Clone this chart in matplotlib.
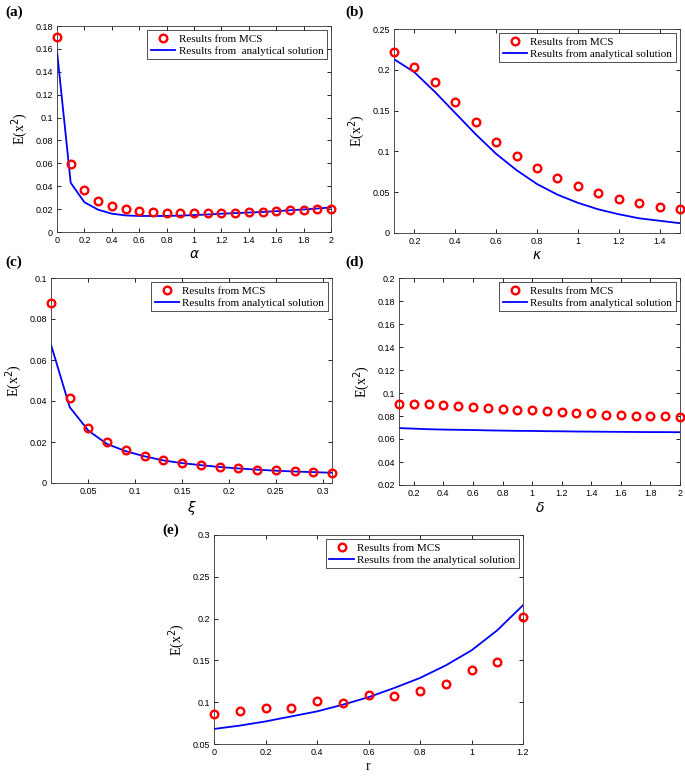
import numpy as np
import matplotlib
matplotlib.use("Agg")
import matplotlib.pyplot as plt

# panel (a): alpha
alpha = np.round(np.arange(0, 2.01, 0.1), 2)
mcs_a = [0.17, 0.0595, 0.0365, 0.027, 0.0225, 0.02, 0.018, 0.0175, 0.017, 0.0165, 0.0165,
         0.0165, 0.017, 0.017, 0.0175, 0.0175, 0.018, 0.019, 0.0195, 0.02, 0.02]
ana_a = [0.158, 0.043, 0.026, 0.0195, 0.016, 0.0145, 0.014, 0.014, 0.014, 0.0143, 0.0148,
         0.0153, 0.016, 0.0165, 0.017, 0.0175, 0.0182, 0.019, 0.0197, 0.0205, 0.0215]

# panel (b): kappa
kappa = np.round(np.arange(0.1, 1.51, 0.1), 2)
mcs_b = [0.222, 0.204, 0.185, 0.161, 0.136, 0.112, 0.094, 0.080, 0.068, 0.058,
         0.049, 0.042, 0.037, 0.032, 0.029]
ana_b = [0.213, 0.197, 0.173, 0.147, 0.121, 0.097, 0.077, 0.060, 0.047, 0.037,
         0.029, 0.023, 0.018, 0.015, 0.012]

# panel (c): xi
xi = np.round(np.arange(0.01, 0.311, 0.02), 2)
mcs_c = [0.088, 0.0415, 0.027, 0.020, 0.016, 0.013, 0.011, 0.010, 0.009, 0.0078,
         0.0073, 0.0065, 0.0062, 0.0058, 0.0055, 0.005]
ana_c = [0.0675, 0.037, 0.0255, 0.019, 0.0155, 0.013, 0.011, 0.0097, 0.0087, 0.0078,
         0.0071, 0.0065, 0.006, 0.0056, 0.0053, 0.005]

# panel (d): delta
delta = np.round(np.arange(0.1, 2.01, 0.1), 2)
mcs_d = [0.0905, 0.0905, 0.0905, 0.0898, 0.0885, 0.088, 0.087, 0.086, 0.0855, 0.085,
         0.0843, 0.0835, 0.083, 0.0823, 0.0805, 0.0805, 0.08, 0.08, 0.08, 0.0793]
ana_d = [0.0695, 0.069, 0.0685, 0.0682, 0.068, 0.0678, 0.0675, 0.0673, 0.0671, 0.067,
         0.0668, 0.0667, 0.0665, 0.0664, 0.0663, 0.0662, 0.0661, 0.066, 0.066, 0.0659]

# panel (e): r
r = np.round(np.arange(0, 1.21, 0.1), 2)
mcs_e = [0.0855, 0.089, 0.0935, 0.0925, 0.101, 0.099, 0.109, 0.107, 0.113, 0.122,
         0.138, 0.148, 0.202]
ana_e = [0.068, 0.072, 0.077, 0.083, 0.089, 0.097, 0.106, 0.117, 0.129, 0.144,
         0.162, 0.186, 0.216]

W, H = 685, 776
serif = "Liberation Serif"
sans = "Liberation Sans"


def box(l, t, r_, b):
    return [l / W, (H - b) / H, (r_ - l) / W, (b - t) / H]


panels = [
    ("(a)", box(57, 26, 331, 232), alpha, mcs_a, ana_a, r"$\alpha$", (0, 2), (0, 0.18),
     np.arange(0, 2.01, 0.2), np.arange(0, 0.181, 0.02), "Results from  analytical solution", (5, 12)),
    ("(b)", box(394, 29, 680, 233), kappa, mcs_b, ana_b, r"$\kappa$", (0.1, 1.5), (0, 0.25),
     np.arange(0.2, 1.41, 0.2), np.arange(0, 0.251, 0.05), "Results from analytical solution", (345, 12)),
    ("(c)", box(51, 278, 332, 483), xi, mcs_c, ana_c, r"$\xi$", (0.01, 0.31), (0, 0.1),
     np.arange(0.05, 0.31, 0.05), np.arange(0, 0.101, 0.02), "Results from analytical solution", (5, 262)),
    ("(d)", box(399, 278, 680, 485), delta, mcs_d, ana_d, r"$\delta$", (0.1, 2), (0.02, 0.2),
     np.arange(0.2, 2.01, 0.2), np.arange(0.02, 0.201, 0.02), "Results from analytical solution", (345, 262)),
    ("(e)", box(214, 535, 523, 744), r, mcs_e, ana_e, "r", (0, 1.2), (0.05, 0.3),
     np.arange(0, 1.21, 0.2), np.arange(0.05, 0.301, 0.05), "Results from the analytical solution", (162, 530)),
]

fig = plt.figure(figsize=(W / 100, H / 100), dpi=100)

for tag, rect, x, mcs, ana, xl, xlim, ylim, xt, yt, lab, pos in panels:
    ax = fig.add_axes(rect)
    ax.plot(x, mcs, "o", ms=5.5, mfc="none", mec="red", mew=1.7, label="Results from MCS",
            clip_on=False, zorder=3)
    ax.plot(x, ana, "-", color="blue", lw=1.3, label=lab)
    ax.set_xlim(xlim)
    ax.set_ylim(ylim)
    ax.set_xticks(xt)
    ax.set_yticks(yt)
    ax.set_xticklabels([f"{v:g}" for v in np.round(xt, 2)], fontfamily=sans, fontsize=6.5)
    ax.set_yticklabels([f"{v:g}" for v in np.round(yt, 2)], fontfamily=sans, fontsize=6.5)
    ax.tick_params(direction="in", top=True, right=True, length=3, width=0.6, pad=3)
    for s in ax.spines.values():
        s.set_linewidth(0.6)
        s.set_color("#333333")
    ax.set_xlabel(xl, fontfamily=serif, fontsize=10, labelpad=2)
    ax.set_ylabel(r"E(x$^2$)", fontfamily=serif, fontsize=10, labelpad=4)
    leg = ax.legend(loc="upper right", prop={"family": serif, "size": 8}, fancybox=False,
                    edgecolor="#333333", framealpha=1, handlelength=2.2, borderaxespad=0.4,
                    labelspacing=0.25, borderpad=0.3, handletextpad=0.3)
    leg.get_frame().set_linewidth(0.6)
    fig.text(pos[0] / W, 1 - pos[1] / H, tag, fontfamily=serif, fontweight="bold",
             fontsize=11, va="center", ha="left")

fig.savefig("out.png", dpi=100)
